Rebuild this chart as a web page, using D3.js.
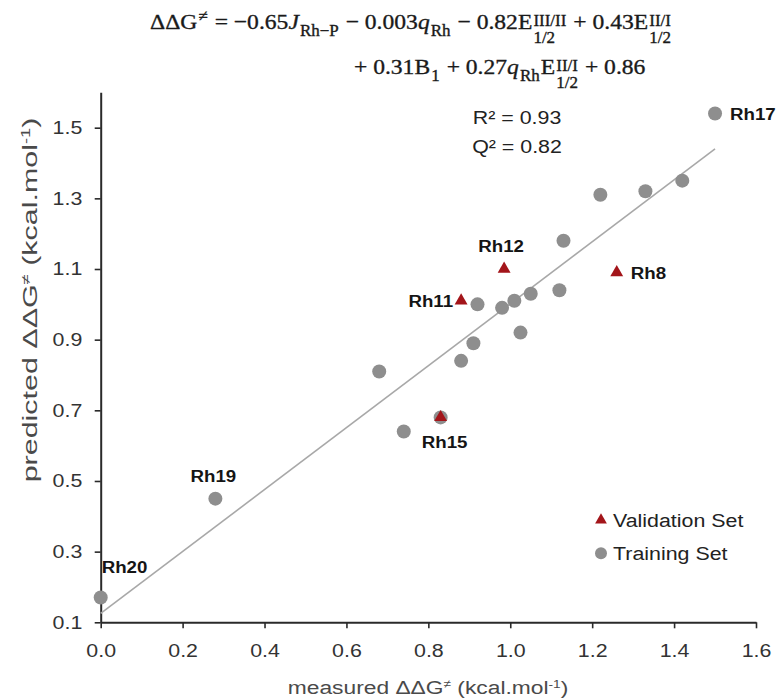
<!DOCTYPE html>
<html>
<head>
<meta charset="utf-8">
<script src="https://cdn.jsdelivr.net/npm/d3@7"></script>
<style>
  body { margin: 0; background: #fff; }
  svg { display: block; }
  svg text { white-space: pre; }
</style>
</head>
<body>
<svg id="chart" width="781" height="700"></svg>
<script>
// ---------------- data ----------------
const xTicks = [0, 0.2, 0.4, 0.6, 0.8, 1.0, 1.2, 1.4, 1.6];
const xTickLabels = ["0.0", "0.2", "0.4", "0.6", "0.8", "1.0", "1.2", "1.4", "1.6"];
const yTicks = [0.1, 0.3, 0.5, 0.7, 0.9, 1.1, 1.3, 1.5];
const yTickLabels = ["0.1", "0.3", "0.5", "0.7", "0.9", "1.1", "1.3", "1.5"];

// training set (grey circles): measured, predicted, label
const trainMeasured  = [0.00, 0.28, 0.68, 0.74, 0.83, 0.88, 0.91, 0.92, 0.98, 1.01, 1.025, 1.05, 1.12, 1.13, 1.22, 1.33, 1.42, 1.50];
const trainPredicted = [0.17, 0.45, 0.81, 0.64, 0.68, 0.84, 0.89, 1.00, 0.99, 1.01, 0.92, 1.03, 1.04, 1.18, 1.31, 1.32, 1.35, 1.54];
const trainLabels    = ["Rh20", "Rh19", "", "", "", "", "", "", "", "", "", "", "", "", "", "", "", "Rh17"];

// validation set (red triangles)
const validMeasured  = [0.88, 0.985, 1.26, 0.83];
const validPredicted = [1.01, 1.10, 1.09, 0.68];
const validLabels    = ["Rh11", "Rh12", "Rh8", "Rh15"];

// regression line
const fitX = [0.0, 1.5];
const fitY = [0.125, 1.44];

const statLines = ["R² = 0.93", "Q² = 0.82"];
const legendLabels = ["Validation Set", "Training Set"];

// ---------------- layout / style ----------------
const SX = 1.15; // horizontal stretch of sans text
const sans = "'Liberation Sans', Arial, Helvetica, sans-serif";
const serif = "'Liberation Serif', 'Times New Roman', serif";
const grey = "#8e8e8e";
const red = "#a3151a";

const labelPlacement = {
  Rh20: {dx: 1, dy: -25, anchor: "start"},
  Rh19: {dx: -2, dy: -17, anchor: "middle"},
  Rh17: {dx: 15, dy: 6, anchor: "start"},
  Rh12: {dx: -3, dy: -17, anchor: "middle"},
  Rh8:  {dx: 14, dy: 6, anchor: "start"},
  Rh11: {dx: -8, dy: 6, anchor: "end"},
  Rh15: {dx: 4, dy: 31, anchor: "middle"}
};

const svg = d3.select("#chart");
const x = d3.scaleLinear().domain([0, 1.6]).range([100.7, 756]);
const y = d3.scaleLinear().domain([0.1, 1.6]).range([622.3, 92.35]);

const defs = svg.append("defs");
defs.append("filter").attr("id", "soft")
  .attr("x", "-50%").attr("y", "-50%").attr("width", "200%").attr("height", "200%")
  .append("feGaussianBlur").attr("stdDeviation", 0.7);

// ---------------- equation ----------------
function mathLine(g, tokens, x0, baseY, fs) {
  let cx = x0;
  tokens.forEach(tk => {
    if (tk.t !== undefined) {
      const el = g.append("text")
        .attr("x", cx).attr("y", baseY)
        .attr("font-size", fs)
        .attr("font-style", tk.it ? "italic" : "normal")
        .text(tk.t);
      cx += el.node().getComputedTextLength();
    } else {
      let w = 0;
      const sfs = fs * 0.72;
      if (tk.sup) {
        const e = g.append("text").attr("x", cx + 1)
          .attr("y", baseY + (tk.sub ? -3 : -8))
          .attr("font-size", sfs).text(tk.sup);
        w = Math.max(w, e.node().getComputedTextLength());
      }
      if (tk.sub) {
        const e = g.append("text").attr("x", cx + 1)
          .attr("y", baseY + (tk.sup ? 14 : 7))
          .attr("font-size", sfs).text(tk.sub);
        w = Math.max(w, e.node().getComputedTextLength());
      }
      cx += w + 2;
    }
  });
  return cx - x0;
}

const eqLine1 = [
  {t: "ΔΔG"}, {sup: "≠"}, {t: " = −0.65"}, {t: "J", it: true}, {sub: "Rh−P"},
  {t: " − 0.003"}, {t: "q", it: true}, {sub: "Rh"},
  {t: " − 0.82E"}, {sup: "III/II", sub: "1/2"},
  {t: " + 0.43E"}, {sup: "II/I", sub: "1/2"}
];
const eqLine2 = [
  {t: "+ 0.31B"}, {sub: "1"}, {t: " + 0.27"}, {t: "q", it: true}, {sub: "Rh"},
  {t: "E"}, {sup: "II/I", sub: "1/2"}, {t: " + 0.86"}
];

const eq = svg.append("g").attr("font-family", serif)
  .attr("fill", "#1a1a1a").attr("stroke", "#1a1a1a").attr("stroke-width", 0.35);
const eqInner = eq.append("g");
const w1 = mathLine(eqInner, eqLine1, 0, 29, 22);
const k = 522 / w1;
mathLine(eqInner, eqLine2, (354 - 150) / k, 74, 22);
eqInner.attr("transform", `translate(150,0) scale(${k},1)`);

// ---------------- axes ----------------
const xAxisG = svg.append("g")
  .attr("transform", `translate(0,${y(0.1)})`)
  .call(d3.axisBottom(x).tickValues(xTicks).tickFormat((d, i) => xTickLabels[i])
    .tickSize(6).tickSizeOuter(0).tickPadding(15));
const yAxisG = svg.append("g")
  .attr("transform", `translate(${x(0)},0)`)
  .call(d3.axisLeft(y).tickValues(yTicks).tickFormat((d, i) => yTickLabels[i])
    .tickSize(6).tickSizeOuter(0).tickPadding(10));

[xAxisG, yAxisG].forEach(g => {
  g.select(".domain").attr("stroke", "#2a2a2a").attr("stroke-width", 2);
  g.selectAll(".tick line").attr("stroke", "#2a2a2a").attr("stroke-width", 1.6);
  g.selectAll(".tick text")
    .attr("font-family", sans).attr("font-size", 18.6).attr("fill", "#333")
    .attr("transform", `scale(${SX},1)`);
});

// axis titles
function axisTitle(sel, parts) {
  parts.forEach(p => {
    sel.append("tspan")
      .attr("font-size", p.sup ? "60%" : null)
      .attr("dy", p.sup ? "-0.55em" : (p.after ? "0.33em" : null))
      .text(p.t);
  });
}
const titleParts = [
  {t: "ΔΔG"}, {t: "≠", sup: true}, {t: " (kcal.mol", after: true},
  {t: "-1", sup: true}, {t: ")", after: true}
];
const xTitle = svg.append("text")
  .attr("transform", `translate(428,694) scale(1.2,1)`)
  .attr("text-anchor", "middle").attr("font-family", sans)
  .attr("font-size", 19).attr("fill", "#4a4a4a");
xTitle.append("tspan").text("measured ");
axisTitle(xTitle, titleParts);

const yTitle = svg.append("text")
  .attr("transform", `translate(37,300) rotate(-90) scale(1.45,1)`)
  .attr("text-anchor", "middle").attr("font-family", sans)
  .attr("font-size", 21).attr("fill", "#4a4a4a");
yTitle.append("tspan").text("predicted ");
axisTitle(yTitle, titleParts);

// ---------------- regression line ----------------
svg.append("path")
  .datum(fitX.map((v, i) => [v, fitY[i]]))
  .attr("d", d3.line().x(d => x(d[0])).y(d => y(d[1])))
  .attr("fill", "none").attr("stroke", "#a8a8a8").attr("stroke-width", 1.6);

// ---------------- points ----------------
const train = trainMeasured.map((m, i) => ({m, p: trainPredicted[i], label: trainLabels[i]}));
const valid = validMeasured.map((m, i) => ({m, p: validPredicted[i], label: validLabels[i]}));

svg.append("g").selectAll("circle").data(train).join("circle")
  .attr("cx", d => x(d.m)).attr("cy", d => y(d.p)).attr("r", 7)
  .attr("fill", grey).attr("filter", "url(#soft)");

const tri = d3.symbol().type(d3.symbolTriangle).size(72);
svg.append("g").selectAll("path").data(valid).join("path")
  .attr("d", tri)
  .attr("transform", d => `translate(${x(d.m)},${y(d.p)})`)
  .attr("fill", red);

// point labels
svg.append("g").selectAll("text")
  .data(train.filter(d => d.label).concat(valid))
  .join("text")
  .attr("transform", d => {
    const pl = labelPlacement[d.label];
    return `translate(${x(d.m) + pl.dx},${y(d.p) + pl.dy}) scale(1.1,1)`;
  })
  .attr("text-anchor", d => labelPlacement[d.label].anchor)
  .attr("font-family", sans).attr("font-weight", "bold")
  .attr("font-size", 17).attr("fill", "#151515")
  .text(d => d.label);

// stats
svg.append("g").selectAll("text").data(statLines).join("text")
  .attr("transform", (d, i) => `translate(517,${124 + i * 29}) scale(${SX},1)`)
  .attr("text-anchor", "middle").attr("font-family", sans)
  .attr("font-size", 18.6).attr("fill", "#222")
  .text(d => d);

// ---------------- legend ----------------
const leg = svg.append("g");
const legItems = leg.selectAll("g").data(legendLabels).join("g")
  .attr("transform", (d, i) => `translate(601,${520 + i * 33.3})`);
legItems.filter((d, i) => i === 0).append("path")
  .attr("d", d3.symbol().type(d3.symbolTriangle).size(60)).attr("fill", red);
legItems.filter((d, i) => i === 1).append("circle")
  .attr("r", 6).attr("fill", grey).attr("filter", "url(#soft)");
legItems.append("text")
  .attr("transform", `translate(12,6.6) scale(${SX},1)`)
  .attr("font-family", sans).attr("font-size", 18.6).attr("fill", "#222")
  .text(d => d);
</script>
</body>
</html>
